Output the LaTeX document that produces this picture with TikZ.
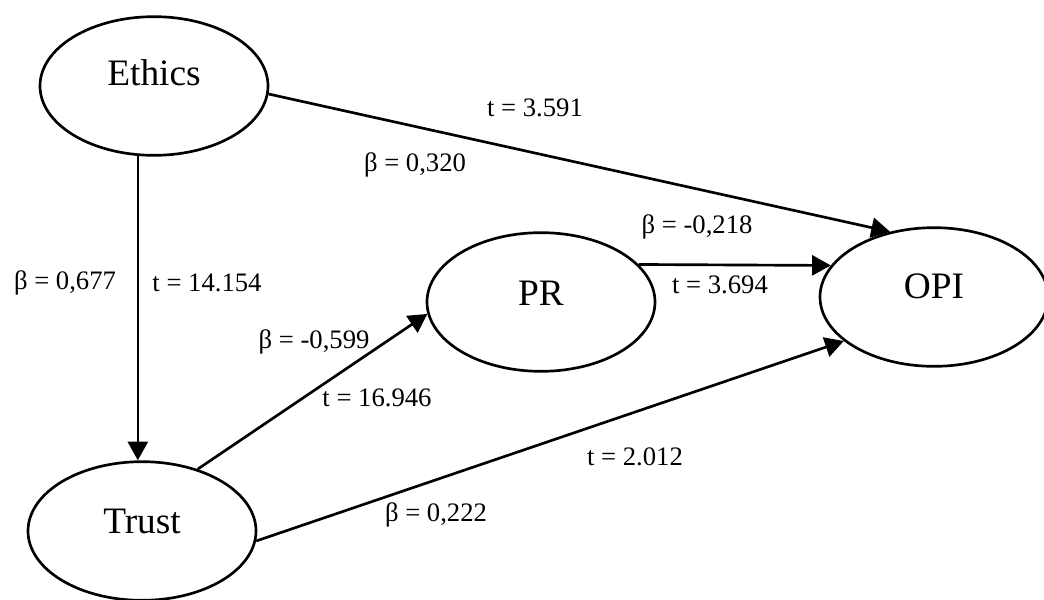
\documentclass[tikz,border=0pt]{standalone}
\usepackage{fontspec}
\setmainfont{Liberation Serif}
\usetikzlibrary{shapes.geometric,arrows.meta}
\tikzset{
  latent/.style={draw,ellipse,line width=2pt,minimum width=171pt,minimum height=104pt,
    inner sep=0pt,font=\fontsize{28}{30}\selectfont},
  coef/.style={inner sep=0pt,font=\fontsize{20}{22}\selectfont},
  path/.style={line width=2pt,-{Triangle[length=14pt,width=15pt]}}
}

\begin{document}
\begin{tikzpicture}[x=0.75pt,y=-0.75pt]
      \useasboundingbox (0,0) rectangle (1044,599);
      \path
      (154,86) node[latent](ethics) {}
      (142,531) node[latent](trust) {}
      (541,302) node[latent](pr) {}
      (934,297) node[latent](opi) {}
      ;
      \path
      (154,73) node[font=\fontsize{28}{30}\selectfont] {Ethics}
      (142,521) node[font=\fontsize{28}{30}\selectfont] {Trust}
      (541,293) node[font=\fontsize{28}{30}\selectfont] {PR}
      (934,286) node[font=\fontsize{28}{30}\selectfont] {OPI}
      ;

      \draw[path] (ethics.257) -- (ethics.257 |- trust.north);
      \draw[path] (ethics.-4.5) -- (opi.124);
      \draw[path] (pr.21) -- (opi.163);
      \draw[path] (trust.48) -- (pr.186.5);
      \draw[path] (trust.-5.5) -- (opi.206.6);

      \path
      (535,108) node[coef](t13) {t = 3.591}
      (415,165) node[coef](b13) {β = 0,320}
      (697,227) node[coef](b23) {β = -0,218}
      (720,285) node[coef](t23) {t = 3.694}
      (65,283) node[coef](b12) {β = 0,677}
      (207,283) node[coef](t12) {t = 14.154}
      (314,342) node[coef](b42) {β = -0,599}
      (377,398) node[coef](t42) {t = 16.946}
      (635,457) node[coef](t43) {t = 2.012}
      (436,515) node[coef](b43) {β = 0,222}
      ;
    \end{tikzpicture}
\end{document}
